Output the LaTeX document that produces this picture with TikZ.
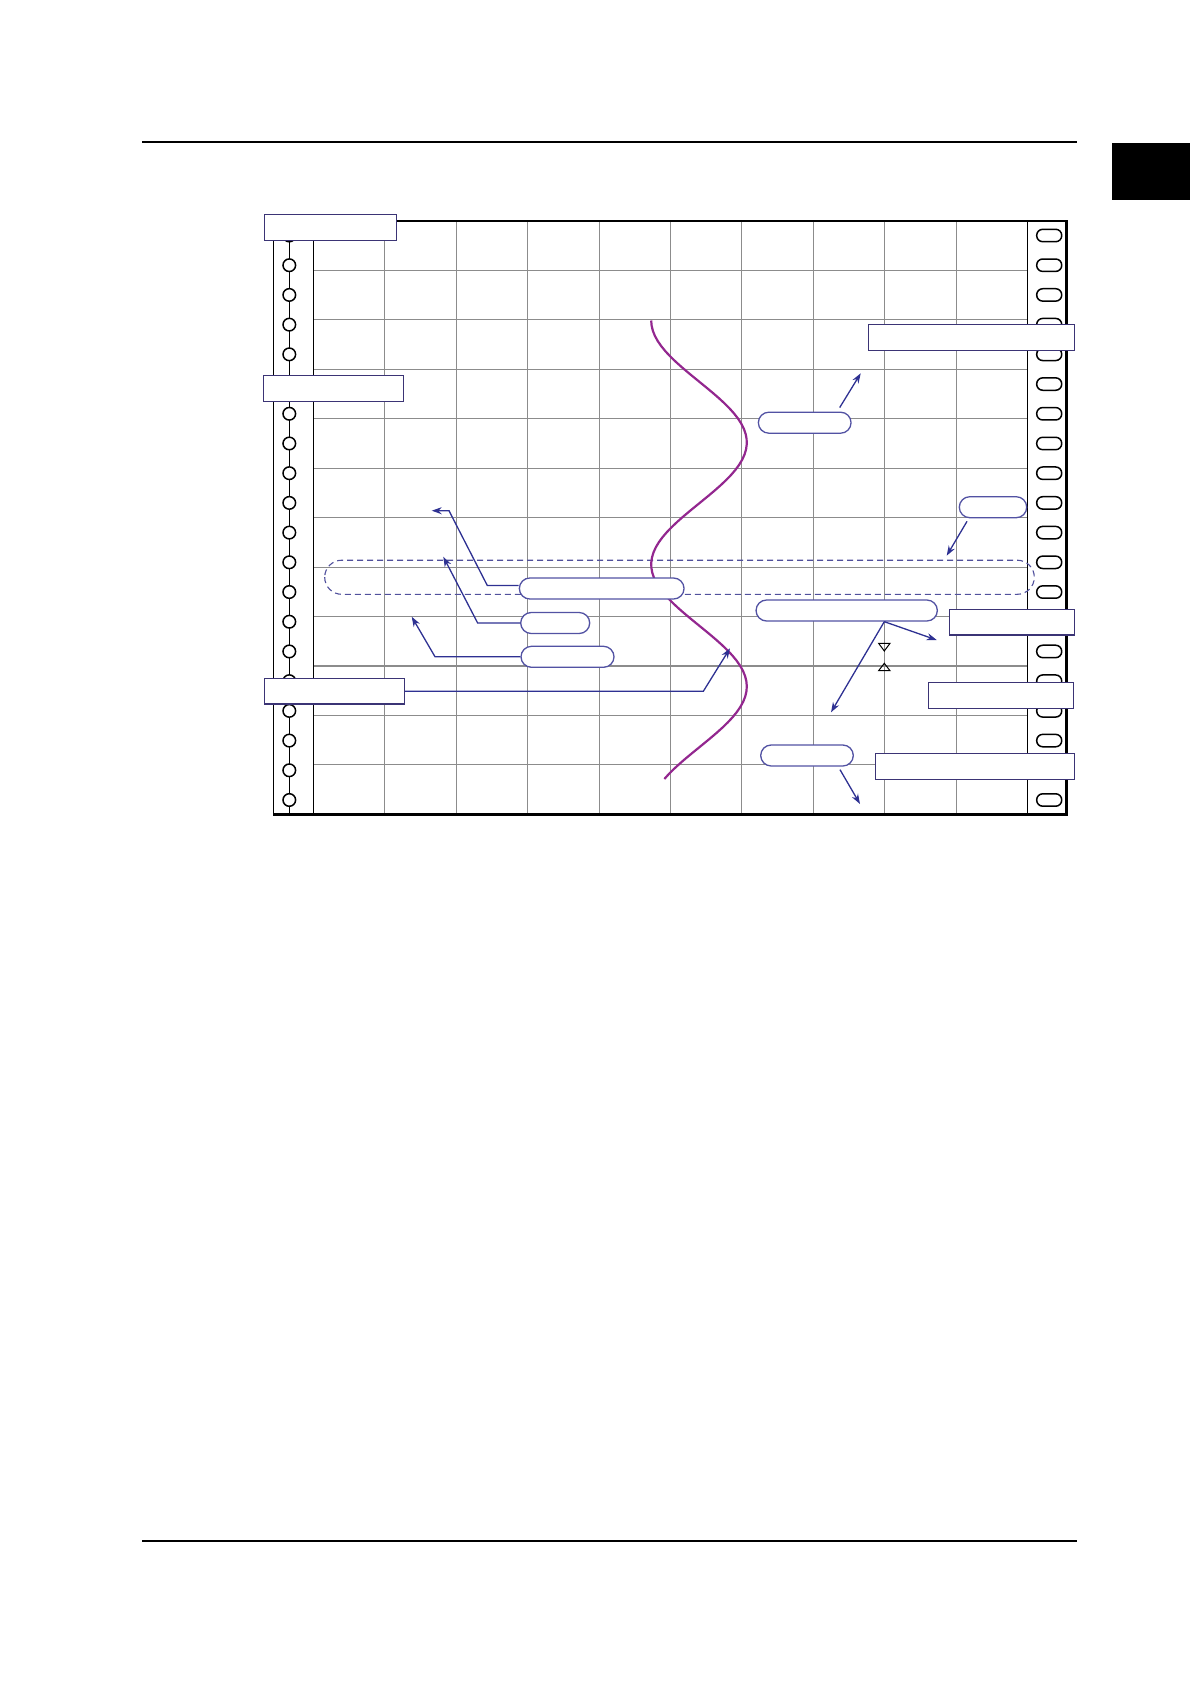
\documentclass[tikz,border=0pt]{standalone}
\usetikzlibrary{arrows.meta}
\definecolor{chartnavy}{HTML}{2E3192}
\definecolor{boxnavy}{HTML}{3B3475}
\definecolor{pillblue}{HTML}{5252A3}
\definecolor{dashblue}{HTML}{50509C}
\definecolor{gridgray}{HTML}{8C8C8C}
\definecolor{curvemagenta}{HTML}{93278F}
\begin{document}
\begin{tikzpicture}[
    x=1pt, y=-1pt,
    grid line/.style={draw=gridgray, line width=1.1pt},
    strip line/.style={black, line width=1.5pt},
    frame line/.style={black, line width=2.5pt},
    hole/.style={draw=black, fill=white, line width=1.5pt},
    label box/.style={draw=boxnavy, fill=white, line width=1.3pt, minimum height=26pt, inner sep=0pt},
    pill/.style={draw=pillblue, fill=white, line width=1.3pt, rounded corners=10.5pt, minimum height=21pt, inner sep=0pt},
    pointer/.style={draw=chartnavy, line width=1.3pt, -{Stealth[length=10pt,width=7pt]}},
    band/.style={draw=dashblue, line width=1.1pt, dash pattern=on 6pt off 4pt, rounded corners=17pt}
]
    \useasboundingbox (0,0) rectangle (1190,1684);

    % Page rules and tab
    \draw[line width=2pt] (142,142.3) -- (1076.7,142.3);
    \draw[line width=2pt] (142,1541.3) -- (1076.7,1541.3);
    \fill[black] (1112,142.7) rectangle (1190,200);

    % Chart grid
    \foreach \k in {1,...,9} {
        \draw[grid line] ({313.3+71.44*\k},221) -- ({313.3+71.44*\k},814.3);
    }
    \foreach \k in {1,...,11} {
        \draw[grid line] (313.3,{221+49.44*\k}) -- (1027.7,{221+49.44*\k});
    }

    % Paper strips with feed holes
    \draw[strip line] (273.3,221) -- (273.3,814.3);
    \draw[strip line] (313.3,221) -- (313.3,814.3);
    \draw[black, line width=1pt] (289.3,221) -- (289.3,814.3);
    \draw[strip line] (1027.7,221) -- (1027.7,814.3);
    \foreach \k in {0,...,19} {
        \pgfmathsetmacro{\hy}{235.5+29.71*\k}
        \draw[hole] (289.3,\hy) circle (6.3pt);
        \draw[hole, rounded corners=6pt] (1036.7,{\hy-6.2}) rectangle (1061.7,{\hy+6.2});
    }
    \draw[frame line] (273.3,221) -- (1066.7,221) -- (1066.7,814.3) -- (273.3,814.3);

    % Dashed band
    \draw[band] (324.7,560.2) rectangle (1034.3,594.3);

    % Recorded trace
    \draw[curvemagenta, line width=2.2pt]
        plot[domain=320.5:779, samples=90, variable=\t] ({699-47.8*cos(1.47541*(\t-320.5))}, \t);

    % Rounded labels
    \node[pill, minimum width=92.7pt] (pA) at (804.7,422.7) {};
    \node[pill, minimum width=67.4pt] (pB) at (993,507.2) {};
    \node[pill, minimum width=164.7pt] (pC) at (601.7,588.5) {};
    \node[pill, minimum width=69pt] (pD) at (555.2,623) {};
    \node[pill, minimum width=93pt] (pE) at (567.5,656.8) {};
    \node[pill, minimum width=181.3pt] (pF) at (846.7,610.5) {};
    \node[pill, minimum width=92.6pt] (pG) at (807,755.5) {};

    % Boxed labels
    \node[label box, minimum width=132.4pt] (bTL) at (330.5,227.3) {};
    \node[label box, minimum width=140pt] (bML) at (333.3,388.2) {};
    \node[label box, minimum width=140pt, minimum height=25.3pt] (bBL) at (334.3,691.3) {};
    \node[label box, minimum width=206pt] (bTR) at (971.3,337.3) {};
    \node[label box, minimum width=125pt, minimum height=25.7pt] (bR1) at (1011.8,622.2) {};
    \node[label box, minimum width=145pt, minimum height=25.6pt] (bR2) at (1000.8,695.5) {};
    \node[label box, minimum width=199pt] (bR3) at (974.8,766.3) {};

    % Arrow ends and bends
    \coordinate (tA) at (860.7,373.3);
    \coordinate (tB) at (946.7,555.7);
    \coordinate (kC) at (449,510.7);
    \coordinate (tC) at (431.7,510.7);
    \coordinate (tD) at (443.3,556.7);
    \coordinate (tE) at (411.7,616.7);
    \coordinate (tF1) at (936.7,640);
    \coordinate (tF2) at (831,712.3);
    \coordinate (tG) at (860,804);
    \coordinate (tL) at (730,648.3);

    % Pointers
    \draw[pointer] ([xshift=35pt, yshift=4pt]pA.north) -- (tA);
    \draw[pointer] ([xshift=-26pt, yshift=-3pt]pB.south) -- (tB);
    \draw[pointer] ([yshift=3pt]pC.west) -- ++(-31.4,0) -- (kC) -- (tC);
    \draw[pointer] (pD.west) -- ++(-42.4,0) -- (tD);
    \draw[pointer] (pE.west) -- ++(-85.3,0) -- (tE);
    \draw[pointer] ([xshift=37.6pt]pF.south) -- (tF1);
    \draw[pointer] ([xshift=37.6pt]pF.south) -- (tF2);
    \draw[pointer] ([xshift=33pt, yshift=-3pt]pG.south) -- (tG);
    \draw[pointer] (bBL.east) -- (703.3,691.3) -- (tL);

    % Gap marks
    \draw[black, line width=1pt] (878.6,643.3) -- (890,643.3) -- (884.3,651) -- cycle;
    \draw[black, line width=1pt] (878.6,670.7) -- (890,670.7) -- (884.3,663.3) -- cycle;

\end{tikzpicture}
\end{document}
